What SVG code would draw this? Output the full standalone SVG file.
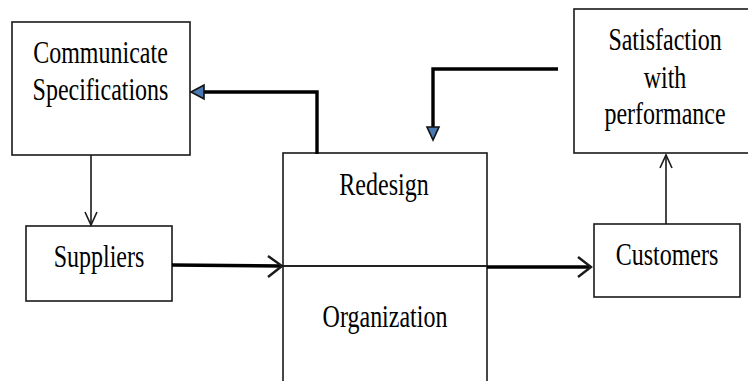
<svg xmlns="http://www.w3.org/2000/svg" width="748" height="381" viewBox="0 0 748 381">
<style>
.box{fill:#fff;stroke:#1a1a1a;stroke-width:1.6}
.t{font-family:"Liberation Serif","Times New Roman",serif;font-size:32px;fill:#000;text-anchor:middle}
.thin{fill:none;stroke:#1a1a1a;stroke-width:1.6}
.thick{fill:none;stroke:#000;stroke-width:3.4}
.mid{fill:none;stroke:#1a1a1a;stroke-width:2.4}
.blue{fill:#4a78b0;stroke:#111;stroke-width:1.6;stroke-linejoin:miter}
</style>
<rect width="748" height="381" fill="#fff"/>
<g id="communicate">
<rect class="box" x="12" y="22" width="178" height="133"/>
<g transform="translate(100.5,63) scale(0.75,1)"><text class="t" x="0" y="0">Communicate</text></g>
<g transform="translate(100.5,100) scale(0.75,1)"><text class="t" x="0" y="0">Specifications</text></g>
</g>
<g id="suppliers">
<rect class="box" x="26" y="226" width="146" height="75"/>
<g transform="translate(99,267) scale(0.75,1)"><text class="t" x="0" y="0">Suppliers</text></g>
</g>
<g id="redesign">
<rect class="box" x="283" y="153" width="204" height="240"/>
<line x1="283" y1="266" x2="487" y2="266" stroke="#222" stroke-width="1.8"/>
<g transform="translate(384,195) scale(0.75,1)"><text class="t" x="0" y="0">Redesign</text></g>
<g transform="translate(385,327) scale(0.75,1)"><text class="t" x="0" y="0">Organization</text></g>
</g>
<g id="satisfaction">
<rect class="box" x="574" y="9" width="180" height="144"/>
<g transform="translate(665,50) scale(0.75,1)"><text class="t" x="0" y="0">Satisfaction</text></g>
<g transform="translate(665,88) scale(0.75,1)"><text class="t" x="0" y="0">with</text></g>
<g transform="translate(665,124) scale(0.75,1)"><text class="t" x="0" y="0">performance</text></g>
</g>
<g id="customers">
<rect class="box" x="594" y="224" width="146" height="73"/>
<g transform="translate(667,265) scale(0.75,1)"><text class="t" x="0" y="0">Customers</text></g>
</g>
<g id="connectors">
<!-- Redesign -> Communicate -->
<polyline class="thick" points="317,154 317,92 203,92"/>
<polygon class="blue" points="191,92 204,85 204,99"/>
<!-- Satisfaction -> Redesign -->
<polyline class="thick" points="558,69 433,69 433,128"/>
<polygon class="blue" points="433,140 427,127 439,127"/>
<!-- Communicate -> Suppliers -->
<line class="thin" x1="91" y1="155" x2="91" y2="225"/>
<polyline class="thin" points="85,212 91,225 97,212"/>
<!-- Suppliers -> Redesign -->
<line class="thick" x1="172" y1="265" x2="281" y2="266"/>
<polyline class="mid" points="268,256 282,266 268,277" stroke-width="3"/>
<!-- Redesign -> Customers -->
<line class="thick" x1="487" y1="267" x2="590" y2="267"/>
<polyline class="mid" points="578,257 591,267 578,277" stroke-width="3"/>
<!-- Customers -> Satisfaction -->
<line class="thin" x1="666" y1="224" x2="666" y2="155"/>
<polyline class="thin" points="660,168 666,155 672,168"/>
</g>
</svg>
